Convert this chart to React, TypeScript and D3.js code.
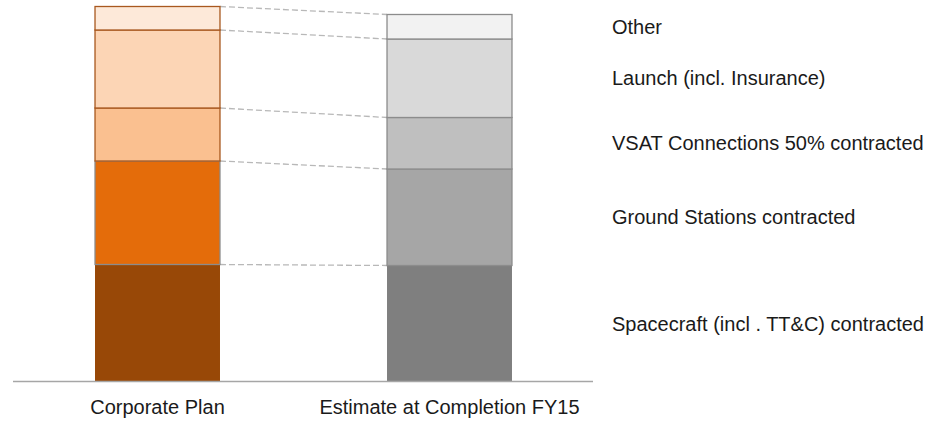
import { scaleBand, scaleLinear, stack } from "d3";

const categories = ["Corporate Plan", "Estimate at Completion FY15"];
const segments = [
  "Spacecraft (incl . TT&C) contracted",
  "Ground Stations contracted",
  "VSAT Connections 50% contracted",
  "Launch (incl. Insurance)",
  "Other",
];
const planValues = [117, 103.5, 53, 78, 23.5];
const eacValues = [116, 96.5, 51.5, 78.5, 24.5];

const planColors = ["#984807", "#e46c0a", "#fac090", "#fcd5b5", "#fde9d9"];
const eacColors = ["#7f7f7f", "#a6a6a6", "#bfbfbf", "#d9d9d9", "#f2f2f2"];
const planStrokes = ["none", "#8c8c8c", "#a8581f", "#a8581f", "#a8581f"];

const width = 940;
const height = 422;
const baseline = 381.5;
const font = "'Liberation Sans', Arial, sans-serif";

export default function App() {
  const rows = [planValues, eacValues].map((vals) => {
    const r: Record<string, number> = {};
    segments.forEach((s, i) => (r[s] = vals[i]));
    return r;
  });
  const series = stack<Record<string, number>>().keys(segments)(rows);

  const x = scaleBand()
    .domain(categories)
    .range([11.5, 595.5])
    .paddingInner(0.572)
    .paddingOuter(0.286);
  const y = scaleLinear().domain([0, 375]).range([baseline, 6.5]);
  const bw = x.bandwidth();
  const xPlan = x(categories[0])!;
  const xEac = x(categories[1])!;

  return (
    <div style={{ position: "absolute", left: 0, top: 0 }}>
      <svg width={width} height={height} style={{ display: "block" }}>
        {/* dashed connectors between the stack boundaries */}
        {series.map((s) => (
          <line
            key={"c" + s.key}
            x1={xPlan + bw}
            x2={xEac}
            y1={y(s[0][1])}
            y2={y(s[1][1])}
            stroke="#b8b8b8"
            strokeWidth={1.3}
            strokeDasharray="6 3"
          />
        ))}

        {series.map((s, i) => (
          <g key={s.key}>
            <rect
              x={xPlan}
              y={y(s[0][1])}
              width={bw}
              height={y(s[0][0]) - y(s[0][1])}
              fill={planColors[i]}
              stroke={planStrokes[i]}
              strokeWidth={1.3}
            />
            <rect
              x={xEac}
              y={y(s[1][1])}
              width={bw}
              height={y(s[1][0]) - y(s[1][1])}
              fill={eacColors[i]}
              stroke={i === 0 ? "none" : "#8c8c8c"}
              strokeWidth={1.3}
            />
          </g>
        ))}

        <line
          x1={13}
          x2={593}
          y1={baseline}
          y2={baseline}
          stroke="#a6a6a6"
          strokeWidth={1.5}
        />

        {categories.map((c) => (
          <text
            key={c}
            x={x(c)! + bw / 2}
            y={414}
            textAnchor="middle"
            fontFamily={font}
            fontSize={20}
            fill="#1a1a1a"
          >
            {c}
          </text>
        ))}

        {series.map((s) => (
          <text
            key={"l" + s.key}
            x={612}
            y={(y(s[1][0]) + y(s[1][1])) / 2}
            dy="0.35em"
            fontFamily={font}
            fontSize={20}
            fill="#1a1a1a"
          >
            {s.key}
          </text>
        ))}
      </svg>
    </div>
  );
}
